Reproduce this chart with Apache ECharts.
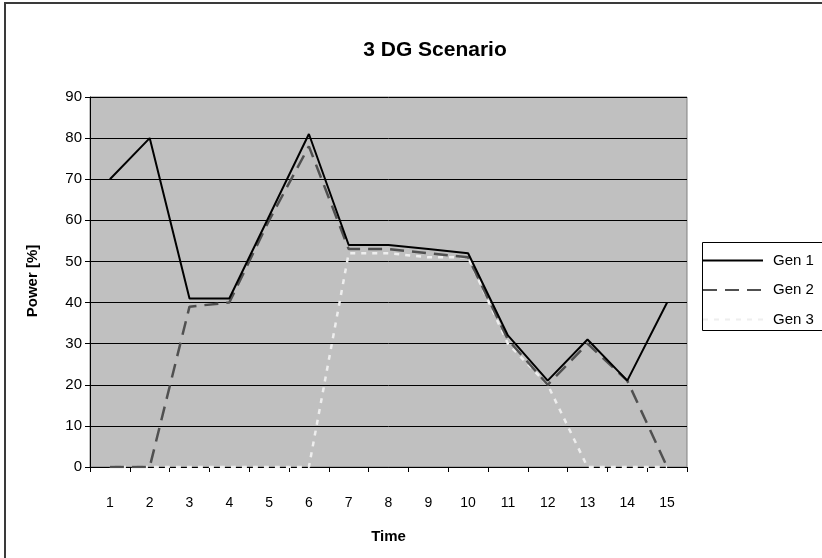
<!DOCTYPE html>
<html>
<head>
<meta charset="utf-8">
<script src="https://cdn.jsdelivr.net/npm/echarts@6/dist/echarts.min.js"></script>
<style>
html,body{margin:0;padding:0;background:#fff;}
#chart{width:822px;height:558px;}
</style>
</head>
<body>
<div id="chart"></div>
<script>
var categories = ['1','2','3','4','5','6','7','8','9','10','11','12','13','14','15'];
var gen1 = [70, 80, 41, 41, 61, 81, 54, 54, 53, 52, 32, 21, 31, 21, 40];
var gen2 = [0, 0, 39, 40, 60, 78, 53, 53, 52, 51, 31, 20, 30, 21, 0];
var gen3 = [0, 0, 0, 0, 0, 0, 52, 52, 51, 51, 30, 20, 0, 0, 0];
var seriesNames = ['Gen 1', 'Gen 2', 'Gen 3'];

var FONT = '"Liberation Sans", Arial, sans-serif';
var chart = echarts.init(document.getElementById('chart'));
chart.setOption({
  backgroundColor: '#ffffff',
  animation: false,
  title: {
    text: '3 DG Scenario',
    left: 430, top: 35, textAlign: 'center',
    textStyle: {fontFamily: FONT, fontSize: 21, fontWeight: 'bold', color: '#000'}
  },
  graphic: [
    {type: 'rect', shape: {x: 5, y: 3, width: 900, height: 700},
     style: {fill: 'none', stroke: '#3a3a3a', lineWidth: 2}, z: -1},
    {type: 'rect', shape: {x: 702.5, y: 242.5, width: 200, height: 88},
     style: {fill: '#ffffff', stroke: '#000', lineWidth: 1}, z: 0},
    {type: 'text', x: 33, y: 281, rotation: Math.PI/2,
     style: {text: 'Power [%]', fontFamily: FONT, fontSize: 15, fontWeight: 'bold', fill: '#000',
             textAlign: 'center', textVerticalAlign: 'middle'}}
  ],
  legend: {
    orient: 'vertical', left: 702, top: 253, padding: 0,
    itemWidth: 60, itemHeight: 14, itemGap: 14.5,
    data: seriesNames,
    itemStyle: {opacity: 0, borderWidth: 0},
    textStyle: {fontFamily: FONT, fontSize: 15, color: '#000', padding: [0,0,0,5]},
    z: 5
  },
  grid: {left: 90, top: 97, width: 597, height: 370, containLabel: false,
    show: true, backgroundColor: '#c0c0c0', borderColor: '#808080', borderWidth: 1},
  xAxis: {
    type: 'category', data: categories, boundaryGap: true,
    name: 'Time', nameLocation: 'middle', nameGap: 62,
    nameTextStyle: {fontFamily: FONT, fontSize: 15, fontWeight: 'bold', color: '#000'},
    axisLine: {lineStyle: {color: '#000', width: 1}},
    axisTick: {show: true, length: 5, lineStyle: {color: '#000'}},
    axisLabel: {margin: 29, fontFamily: FONT, fontSize: 14, color: '#000'},
    splitLine: {show: false}
  },
  yAxis: {
    type: 'value', min: 0, max: 90, interval: 10,
    axisLine: {show: true, lineStyle: {color: '#000', width: 1}},
    axisTick: {show: true, length: 5, lineStyle: {color: '#000'}},
    axisLabel: {margin: 8, fontFamily: FONT, fontSize: 15, color: '#000'},
    splitLine: {show: true, lineStyle: {color: '#000', width: 1}}
  },
  series: [
    {name: 'Gen 1', type: 'line', data: gen1, symbol: 'none', z: 4,
     lineStyle: {color: '#000', width: 2, type: 'solid'}, itemStyle: {color: '#000'}},
    {name: 'Gen 2', type: 'line', data: gen2, symbol: 'none', z: 3,
     lineStyle: {color: '#505050', width: 2.5, type: [14, 8]}, itemStyle: {color: '#505050'}},
    {name: 'Gen 3', type: 'line', data: gen3, symbol: 'none', z: 2,
     lineStyle: {color: '#eeeeee', width: 2.5, type: [5, 6]}, itemStyle: {color: '#eeeeee'}}
  ]
});
</script>
</body>
</html>
